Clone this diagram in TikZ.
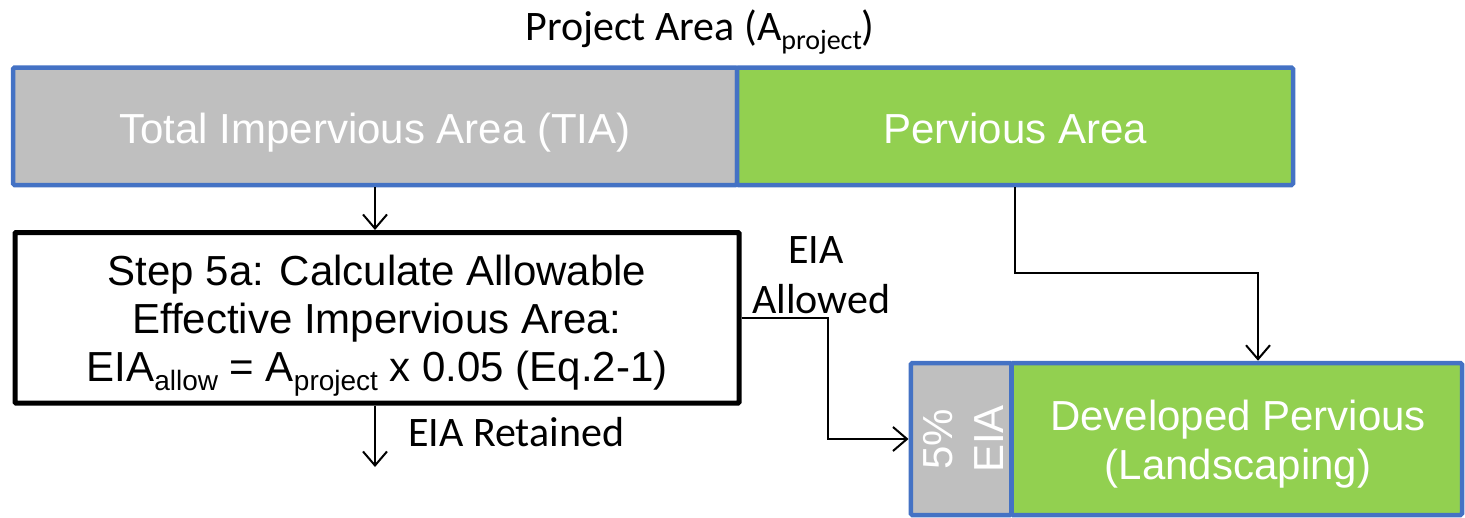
\documentclass[tikz,border=0pt]{standalone}
\usepackage{fontspec}
\setmainfont{Liberation Sans}
\newfontfamily\calibri{Carlito}
\usetikzlibrary{arrows.meta}
\definecolor{boxgray}{HTML}{BFBFBF}
\definecolor{boxgreen}{HTML}{92D050}
\definecolor{boxblue}{HTML}{4472C4}
\newcommand{\bigf}{\fontsize{42}{48}\selectfont}
\newcommand{\subtxt}[1]{\raisebox{-9pt}{\fontsize{28}{28}\selectfont #1}}
\tikzset{
  area/.style={draw=boxblue, line width=4.5pt, rounded corners=1.5pt, inner sep=0pt},
  graybox/.style={area, fill=boxgray},
  greenbox/.style={area, fill=boxgreen},
  stepbox/.style={draw=black, line width=5pt, rounded corners=1pt, fill=white, inner sep=0pt},
  wtxt/.style={text=white, font=\bigf, inner sep=0pt},
  btxt/.style={text=black, font=\bigf, inner sep=0pt, anchor=base},
  ctxt/.style={text=black, font=\calibri\bigf, inner sep=0pt, anchor=base},
  arr/.style={draw=black, line width=2pt, -{Straight Barb[length=14pt, width=24pt]}}
}
\begin{document}
\begin{tikzpicture}[x=1pt, y=-1pt]
\useasboundingbox (0,0) rectangle (1465,517);
% top bar
\node[graybox, minimum width=724pt, minimum height=117.5pt] (tia) at (375,126.25) {};
\node[greenbox, minimum width=556pt, minimum height=117.5pt] (perv) at (1015,126.25) {};
\node[wtxt, anchor=base] (tiatext) at (375,143) {Total Impervious Area (TIA)};
\node[wtxt, anchor=base] (pervtext) at (1015,143) {Pervious Area};
% title
\node[ctxt] (title) at (700,40) {Project Area (A\subtxt{project})};
% step box
\node[stepbox, minimum width=724pt, minimum height=170.5pt] (step) at (377,317.75) {};
\node[btxt] (s1) at (377,285) {Step 5a: Calculate Allowable};
\node[btxt] (s2) at (377,333) {Effective Impervious Area:};
\node[btxt] (s3) at (377,381) {EIA\subtxt{allow} = A\subtxt{project} x 0.05 (Eq.2-1)};
% bottom boxes
\node[graybox, minimum width=100.5pt, minimum height=152pt] (eia5) at (961,439) {};
\node[greenbox, minimum width=450.5pt, minimum height=152pt] (dev) at (1236.75,439) {};
\node[wtxt, rotate=90, anchor=base] (eia5a) at (952,439) {5\%};
\node[wtxt, rotate=90, anchor=base] (eia5b) at (1003,439) {EIA};
\node[wtxt, anchor=base] (dev1) at (1238,430) {Developed Pervious};
\node[wtxt, anchor=base] (dev2) at (1238,479) {(Landscaping)};
% labels
\node[ctxt] (allow1) at (816,263) {EIA};
\node[ctxt] (allow2) at (821.5,313) {Allowed};
\node[ctxt, anchor=base west] (retained) at (408,446) {EIA Retained};
% connectors
\coordinate (retend) at (375,467);
\draw[arr] (tia.south) -- (tia.south |- step.north);
\draw[arr] (tia.south |- step.south) -- (retend);
\draw[arr] (step.east) -- ++(86,0) |- (eia5.west);
\draw[arr] (perv.south) -- ++(0,86) -| ([xshift=21.25pt]dev.north);
\end{tikzpicture}
\end{document}
